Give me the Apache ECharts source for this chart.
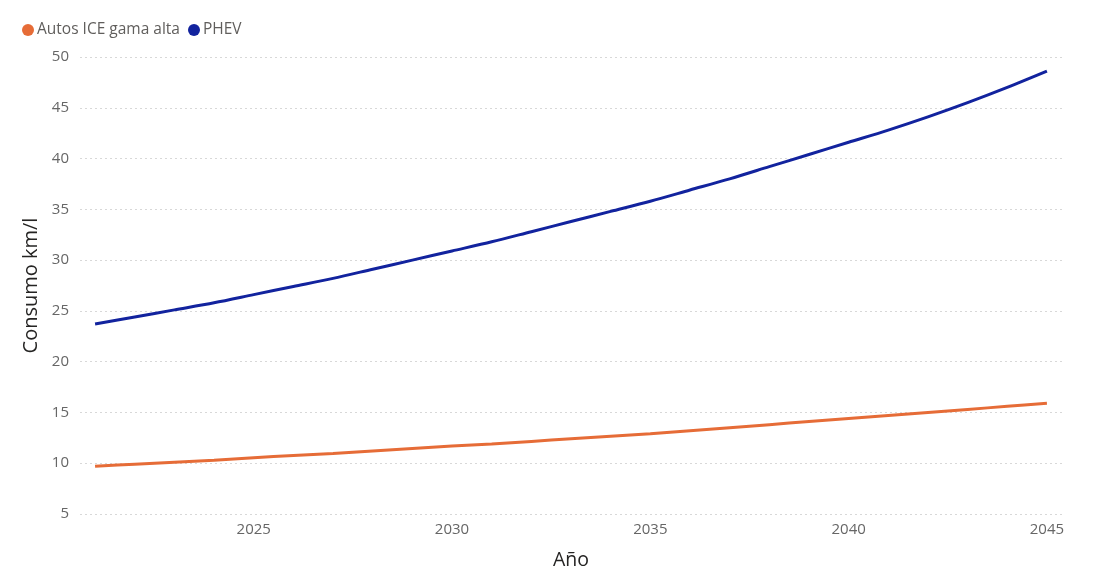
<!DOCTYPE html>
<html>
<head>
<meta charset="utf-8">
<script src="https://cdn.jsdelivr.net/npm/echarts@6/dist/echarts.min.js"></script>
<style>
html,body{margin:0;padding:0;background:#fff;}
#c{width:1093px;height:579px;}
</style>
</head>
<body>
<div id="c"></div>
<script>
const years = [2021,2022,2023,2024,2025,2026,2027,2028,2029,2030,2031,2032,2033,2034,2035,2036,2037,2038,2039,2040,2041,2042,2043,2044,2045];
const iceValues = [9.7,9.9,10.1,10.3,10.55,10.75,10.95,11.2,11.45,11.7,11.9,12.15,12.4,12.65,12.9,13.2,13.5,13.8,14.1,14.4,14.7,15.0,15.3,15.6,15.9];
const phevValues = [23.7,24.4,25.1,25.8,26.6,27.4,28.2,29.1,30.0,30.9,31.8,32.8,33.8,34.8,35.8,36.9,38.0,39.2,40.4,41.6,42.8,44.1,45.5,47.0,48.6];
const xTickLabels = [2025,2030,2035,2040,2045];
const seriesNames = ['Autos ICE gama alta','PHEV'];

const font = '"Open Sans","Noto Sans",sans-serif';
const chart = echarts.init(document.getElementById('c'));
chart.setOption({
  animation:false,
  textStyle:{fontFamily:font},
  legend:{
    left:17, top:17, itemWidth:12, itemHeight:12, itemGap:8, icon:'circle',
    textStyle:{fontSize:15.5,color:'#605E5C',fontFamily:font,padding:[0,0,0,-2]},
    data:seriesNames
  },
  grid:{left:80,right:31,top:57,bottom:65,containLabel:false},
  xAxis:{
    type:'value', min:2020.62, max:2045.38,
    name:'Año', nameLocation:'middle', nameGap:36,
    nameTextStyle:{fontSize:19.5,color:'#252423',fontFamily:font},
    axisLine:{show:false}, axisTick:{show:false}, splitLine:{show:false},
    axisLabel:{customValues:xTickLabels, color:'#666666', fontSize:15, margin:8, fontFamily:font, formatter:v=>String(v)}
  },
  yAxis:{
    type:'value', min:5, max:50, interval:5,
    name:'Consumo km/l', nameLocation:'middle', nameGap:37, nameRotate:90,
    nameTextStyle:{fontSize:20,color:'#252423',fontFamily:font},
    axisLine:{show:false}, axisTick:{show:false},
    axisLabel:{color:'#666666', fontSize:15, margin:11, fontFamily:font},
    splitLine:{show:true,lineStyle:{color:'#D8D8D8',type:[2,3],width:1}}
  },
  series:[
    {name:seriesNames[0], type:'line', data:years.map((y,i)=>[y,iceValues[i]]), showSymbol:false, smooth:0.3,
     lineStyle:{width:3,color:'#E66C37'}, itemStyle:{color:'#E66C37'}},
    {name:seriesNames[1], type:'line', data:years.map((y,i)=>[y,phevValues[i]]), showSymbol:false, smooth:0.3,
     lineStyle:{width:3,color:'#12239E'}, itemStyle:{color:'#12239E'}}
  ]
});
</script>
</body>
</html>
